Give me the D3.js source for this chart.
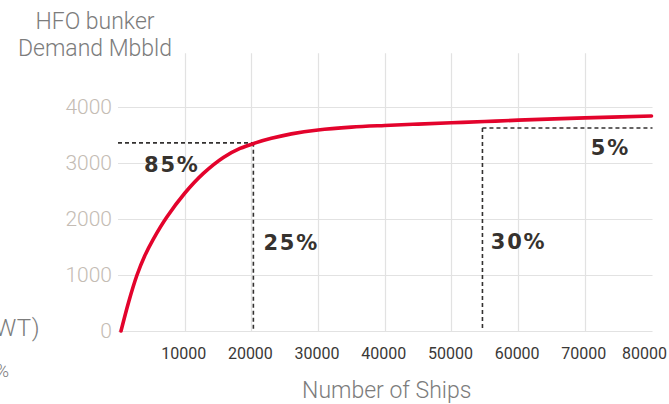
<!DOCTYPE html>
<html>
<head>
<meta charset="utf-8">
<script src="https://cdn.jsdelivr.net/npm/d3@7"></script>
<style>
  html, body { margin: 0; padding: 0; background: #ffffff; }
  svg { display: block; }
</style>
</head>
<body>
<svg id="chart" width="669" height="404"></svg>
<script>
// ---- data ----
const shipsX = [450, 1600, 2850, 4000, 5300, 7300, 10000, 12800, 15800, 18300, 20500, 23000, 26000, 30000, 35000, 40000, 45000, 50000, 55000, 60000, 70000, 80000];
const demandY = [0, 520, 1000, 1340, 1640, 2030, 2460, 2815, 3100, 3260, 3355, 3440, 3520, 3590, 3640, 3670, 3695, 3718, 3740, 3765, 3805, 3840];
const xTicks = [10000, 20000, 30000, 40000, 50000, 60000, 70000, 80000];
const yTicks = [0, 1000, 2000, 3000, 4000];
const markerShips = [20300, 54650];
const markerDemand = [3360, 3625];
const shareLabels = ["85%", "25%", "30%", "5%"];
const shareShips = [3900, 21800, 55900, 70900];
const shareDemand = [2840, 1450, 1460, 3140];
const yTitleLines = ["HFO bunker", "Demand Mbbld"];
const xTitle = "Number of Ships";

// ---- layout ----
const svg = d3.select("#chart");
const x = d3.scaleLinear().domain([0, 80000]).range([118, 651.5]);
const y = d3.scaleLinear().domain([0, 4000]).range([331, 107]);
const yGridTop = 4960;

// horizontal grid
svg.append("g").selectAll("line").data(yTicks).join("line")
  .attr("x1", x(0)).attr("x2", x(80000) + 1)
  .attr("y1", d => y(d) + 0.5).attr("y2", d => y(d) + 0.5)
  .attr("stroke", "#e2e2e2").attr("stroke-width", 1.2);

// vertical grid
svg.append("g").selectAll("line").data(xTicks.slice(0, -1)).join("line")
  .attr("x1", d => Math.round(x(d)) + 0.5).attr("x2", d => Math.round(x(d)) + 0.5)
  .attr("y1", y(yGridTop)).attr("y2", y(0))
  .attr("stroke", "#e2e2e2").attr("stroke-width", 1.2);

// y tick labels
svg.append("g").selectAll("text").data(yTicks).join("text")
  .attr("x", 112).attr("y", d => y(d) + 7)
  .attr("text-anchor", "end")
  .attr("font-family", "Roboto, sans-serif").attr("font-weight", 300)
  .attr("font-size", 21).attr("fill", "#c4bcb4")
  .text(d => d);

// x tick labels
svg.append("g").selectAll("text").data(xTicks).join("text")
  .attr("x", (d, i) => i === xTicks.length - 1 ? 667 : x(d) - 1)
  .attr("y", 359)
  .attr("text-anchor", (d, i) => i === xTicks.length - 1 ? "end" : "middle")
  .attr("font-family", "Roboto, sans-serif").attr("font-weight", 400)
  .attr("font-size", 16).attr("fill", "#3a3836")
  .text(d => d);

// y title
svg.append("g").selectAll("text").data(yTitleLines).join("text")
  .attr("x", 95).attr("y", (d, i) => 29 + i * 27)
  .attr("text-anchor", "middle")
  .attr("font-family", "Roboto, sans-serif").attr("font-weight", 300)
  .attr("font-size", 23).attr("fill", "#7c7c7c")
  .text(d => d);

// x title
svg.append("text")
  .attr("x", (x(0) + x(80000)) / 2 + 2).attr("y", 398)
  .attr("text-anchor", "middle")
  .attr("font-family", "Roboto, sans-serif").attr("font-weight", 300)
  .attr("font-size", 23).attr("fill", "#7c7c7c")
  .text(xTitle);

// cut-off texts at left edge (from neighbouring panel, as in the reference)
svg.append("text").attr("x", 40).attr("y", 336)
  .attr("text-anchor", "end")
  .attr("font-family", "Roboto, sans-serif").attr("font-weight", 300)
  .attr("font-size", 24).attr("letter-spacing", 0.5).attr("fill", "#7c7c7c")
  .text("Fleet (DWT)");
svg.append("text").attr("x", 9).attr("y", 377)
  .attr("text-anchor", "end")
  .attr("font-family", "Roboto, sans-serif").attr("font-weight", 300)
  .attr("font-size", 18).attr("fill", "#7c7c7c")
  .text("100%");

// dashed markers
const dash = svg.append("g").attr("stroke", "#333130").attr("stroke-width", 1.6)
  .attr("stroke-dasharray", "4,3").attr("fill", "none");
dash.append("line")
  .attr("x1", x(0)).attr("x2", x(markerShips[0]))
  .attr("y1", y(markerDemand[0])).attr("y2", y(markerDemand[0]));
dash.append("line")
  .attr("x1", x(markerShips[0])).attr("x2", x(markerShips[0]))
  .attr("y1", y(markerDemand[0])).attr("y2", y(0));
dash.append("line")
  .attr("x1", x(markerShips[1])).attr("x2", x(80000) + 1)
  .attr("y1", y(markerDemand[1])).attr("y2", y(markerDemand[1]));
dash.append("line")
  .attr("x1", x(markerShips[1])).attr("x2", x(markerShips[1]))
  .attr("y1", y(markerDemand[1])).attr("y2", y(0));

// curve
const pts = shipsX.map((d, i) => [d, demandY[i]]);
svg.append("path").datum(pts)
  .attr("fill", "none").attr("stroke", "#e3032c").attr("stroke-width", 3.6)
  .attr("stroke-linecap", "round")
  .attr("d", d3.line().x(d => x(d[0])).y(d => y(d[1])).curve(d3.curveCatmullRom.alpha(0.5)));

// share labels
svg.append("g").selectAll("text").data(shareLabels).join("text")
  .attr("x", (d, i) => x(shareShips[i]))
  .attr("y", (d, i) => y(shareDemand[i]))
  .attr("font-family", "'DejaVu Sans', sans-serif").attr("font-weight", 700)
  .attr("font-size", 21).attr("letter-spacing", 1.8).attr("fill", "#36322e")
  .text(d => d);
</script>
</body>
</html>
